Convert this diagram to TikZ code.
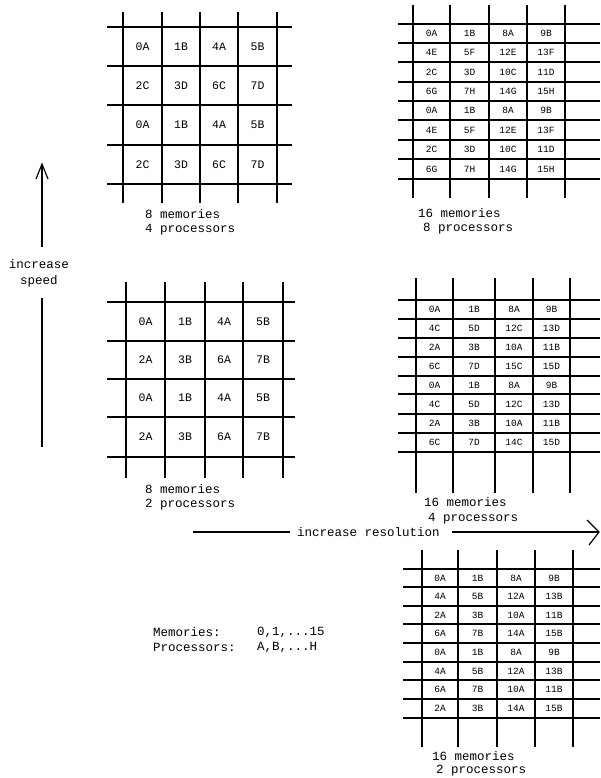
\documentclass[tikz,border=0pt]{standalone}
\usepackage{fontspec}
\setmonofont{Liberation Mono}
\newcommand\drawgrid[6]{%
  \foreach \xx in {#1} \draw[gl] (\xx,#3) -- (\xx,#4);
  \foreach \yy in {#2} \draw[gl] (#5,\yy) -- (#6,\yy);
}
\newcommand\cellrow[4]{%
  \foreach \cx/\ct [count=\ci] in {#3} \node[#4] (#1-\ci) at (\cx,#2) {\ct};
}
\begin{document}
\begin{tikzpicture}[x=1pt,y=-1pt,
  gl/.style={line width=1.2pt, black},
  cellbig/.style={font=\ttfamily\fontsize{11.5}{11.5}\selectfont, inner sep=0pt},
  cellsm/.style={font=\ttfamily\fontsize{9.5}{9.5}\selectfont, inner sep=0pt},
  lab/.style={font=\ttfamily\fontsize{12.5}{15}\selectfont, anchor=west, inner sep=0pt}]
\useasboundingbox[fill=white] (0,0) rectangle (601,778);

% ---- grid 1: 8 memories, 4 processors
\drawgrid{123,162,200,238,277}{27,66,105,145,184}{12}{203}{107}{292}
\cellrow{g1a}{46.5}{142.5/0A,181/1B,219/4A,257.5/5B}{cellbig}
\cellrow{g1b}{85.5}{142.5/2C,181/3D,219/6C,257.5/7D}{cellbig}
\cellrow{g1c}{125}{142.5/0A,181/1B,219/4A,257.5/5B}{cellbig}
\cellrow{g1d}{164.5}{142.5/2C,181/3D,219/6C,257.5/7D}{cellbig}
\node[lab] (g1m) at (145,214) {8 memories};
\node[lab] (g1p) at (145,230) {4 processors};

% ---- grid 2: 16 memories, 8 processors
\drawgrid{413,450,489,527,565}{24,43,62,82,101,120,140,159,179}{5}{198}{398}{600}
\cellrow{g2a}{33.5}{431.5/0A,469.5/1B,508/8A,546/9B}{cellsm}
\cellrow{g2b}{52.5}{431.5/4E,469.5/5F,508/12E,546/13F}{cellsm}
\cellrow{g2c}{72}{431.5/2C,469.5/3D,508/10C,546/11D}{cellsm}
\cellrow{g2d}{91.5}{431.5/6G,469.5/7H,508/14G,546/15H}{cellsm}
\cellrow{g2e}{110.5}{431.5/0A,469.5/1B,508/8A,546/9B}{cellsm}
\cellrow{g2f}{130}{431.5/4E,469.5/5F,508/12E,546/13F}{cellsm}
\cellrow{g2g}{149.5}{431.5/2C,469.5/3D,508/10C,546/11D}{cellsm}
\cellrow{g2h}{169}{431.5/6G,469.5/7H,508/14G,546/15H}{cellsm}
\node[lab] (g2m) at (418,213) {16 memories};
\node[lab] (g2p) at (423,229) {8 processors};

% ---- grid 3: 8 memories, 2 processors
\drawgrid{126,165,205,243,283}{302,341,379,417,457}{282}{478}{107}{295}
\cellrow{g3a}{321.5}{145.5/0A,185/1B,224/4A,263/5B}{cellbig}
\cellrow{g3b}{360}{145.5/2A,185/3B,224/6A,263/7B}{cellbig}
\cellrow{g3c}{398}{145.5/0A,185/1B,224/4A,263/5B}{cellbig}
\cellrow{g3d}{437}{145.5/2A,185/3B,224/6A,263/7B}{cellbig}
\node[lab] (g3m) at (145,489) {8 memories};
\node[lab] (g3p) at (145,505) {2 processors};

% ---- grid 4: 16 memories, 4 processors
\drawgrid{416,453,495,533,570}{300,319,338,357,376,394,414,433,452}{278}{493}{398}{600}
\cellrow{g4a}{309.5}{434.5/0A,474/1B,514/8A,551.5/9B}{cellsm}
\cellrow{g4b}{328.5}{434.5/4C,474/5D,514/12C,551.5/13D}{cellsm}
\cellrow{g4c}{347.5}{434.5/2A,474/3B,514/10A,551.5/11B}{cellsm}
\cellrow{g4d}{366.5}{434.5/6C,474/7D,514/15C,551.5/15D}{cellsm}
\cellrow{g4e}{385}{434.5/0A,474/1B,514/8A,551.5/9B}{cellsm}
\cellrow{g4f}{404}{434.5/4C,474/5D,514/12C,551.5/13D}{cellsm}
\cellrow{g4g}{423.5}{434.5/2A,474/3B,514/10A,551.5/11B}{cellsm}
\cellrow{g4h}{442.5}{434.5/6C,474/7D,514/14C,551.5/15D}{cellsm}
\node[lab] (g4m) at (424,502) {16 memories};
\node[lab] (g4p) at (428,519) {4 processors};

% ---- grid 5: 16 memories, 2 processors
\drawgrid{422,458,497,535,573}{569,587,606,624,643,662,680,699,718}{550}{747}{403}{600}
\cellrow{g5a}{578}{440/0A,477.5/1B,516/8A,554/9B}{cellsm}
\cellrow{g5b}{596.5}{440/4A,477.5/5B,516/12A,554/13B}{cellsm}
\cellrow{g5c}{615}{440/2A,477.5/3B,516/10A,554/11B}{cellsm}
\cellrow{g5d}{633.5}{440/6A,477.5/7B,516/14A,554/15B}{cellsm}
\cellrow{g5e}{652.5}{440/0A,477.5/1B,516/8A,554/9B}{cellsm}
\cellrow{g5f}{671}{440/4A,477.5/5B,516/12A,554/13B}{cellsm}
\cellrow{g5g}{689.5}{440/6A,477.5/7B,516/10A,554/11B}{cellsm}
\cellrow{g5h}{708.5}{440/2A,477.5/3B,516/14A,554/15B}{cellsm}
\node[lab] (g5m) at (432,756) {16 memories};
\node[lab] (g5p) at (436,771) {2 processors};

% ---- increase speed
\node[font=\ttfamily\fontsize{12.5}{16}\selectfont, align=center, inner sep=0pt] (speed) at (39,273) {increase\\speed};
\coordinate (su0) at (42,247);
\coordinate (su1) at (42,164);
\coordinate (sd0) at (42,298);
\coordinate (sd1) at (42,447);
\draw[gl] (su0) -- (su1);
\draw[gl] ([xshift=-6]su1) ++(0,15) -- (su1) -- ++(6,15);
\draw[gl] (sd0) -- (sd1);

% ---- increase resolution
\node[lab] (res) at (297,532) {increase resolution};
\coordinate (r0) at (193,532);
\coordinate (r1) at (290,532);
\coordinate (r2) at (452,532);
\coordinate (r3) at (599,532);
\draw[gl] (r0) -- (r1);
\draw[gl] (r2) -- (r3);
\draw[gl] (587,520) -- (r3) -- (589,545);

% ---- legend
\node[lab] (lm) at (153,632) {Memories:};
\node[lab] (lmv) at (257,632) {0,1,...15};
\node[lab] (lp) at (153,647) {Processors:};
\node[lab] (lpv) at (257,647) {A,B,...H};
\end{tikzpicture}
\end{document}
